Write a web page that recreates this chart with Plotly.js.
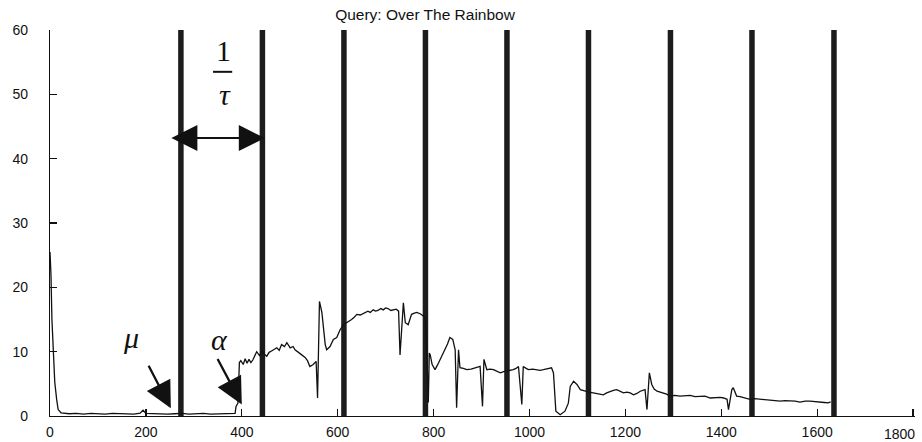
<!DOCTYPE html>
<html>
<head>
<meta charset="utf-8">
<script src="https://cdn.plot.ly/plotly-3.0.1.min.js"></script>
<style>html,body{margin:0;padding:0;background:#fff;}#chart{width:922px;height:442px;}</style>
</head>
<body>
<div id="chart"></div>
<script>
// Query signal (x = frame index, y = distance)
var signalX = [0, 2, 4, 7, 10, 14, 17, 23, 30, 40, 55, 70, 85, 100, 115, 130, 145, 160, 175, 188, 194, 200, 215, 230, 245, 260, 275, 290, 305, 320, 335, 350, 365, 378, 386,
  388, 392, 395, 398, 403, 407, 411, 415, 419, 423, 431, 437, 442, 447, 452, 457, 462, 468, 473, 478, 483, 489, 494, 501, 507, 511, 515, 520, 525, 532, 537, 542, 549, 555,
  558, 562, 567, 574, 577, 584, 591, 598, 605, 612, 617, 622, 629, 635, 640, 647, 654, 663, 668, 674, 679, 684, 690, 695, 700, 705, 711, 716, 722, 727,
  730, 737, 741, 747, 754, 760, 765, 772, 779, 783, 786, 789, 791, 793, 797, 803, 808, 814, 819, 824, 829, 834, 840, 845, 848, 852, 855, 862, 869, 878, 884, 890, 897,
  902, 905, 911, 918, 925, 932, 939, 946, 953, 960, 966, 972, 977, 984, 987, 993, 998, 1007, 1015, 1022, 1029, 1038, 1046, 1050,
  1055, 1064, 1074, 1081, 1085, 1092, 1099, 1106, 1116, 1124, 1133, 1143, 1154, 1161, 1168, 1175, 1182, 1189, 1196, 1203, 1210, 1217, 1224, 1231, 1241,
  1245, 1248, 1250, 1255, 1260, 1266, 1273, 1279, 1286, 1293, 1303, 1314, 1324, 1335, 1345, 1356, 1366, 1377, 1387, 1398, 1405, 1412,
  1415, 1422, 1425, 1432, 1439, 1446, 1453, 1460, 1470, 1481, 1491, 1502, 1512, 1523, 1533, 1544, 1554, 1564, 1575, 1585, 1595, 1606, 1615, 1623, 1628];
var signalY = [25.5, 22, 15, 9.9, 5.2, 2.5, 1.0, 0.5, 0.4, 0.35, 0.4, 0.3, 0.4, 0.35, 0.3, 0.4, 0.35, 0.4, 0.3, 0.45, 0.9, 0.4, 0.35, 0.4, 0.3, 0.35, 0.4, 0.3, 0.35, 0.4, 0.3, 0.35, 0.4, 0.35, 0.4,
  1.5, 2.0, 8.3, 8.6, 8.0, 8.9, 8.2, 8.8, 8.3, 8.7, 10.0, 9.4, 10.1, 9.6, 9.3, 9.9, 10.1, 10.4, 10.6, 10.2, 11.1, 10.8, 11.4, 10.6, 10.8, 10.3, 10.1, 9.8, 9.5, 9.1, 8.6, 7.7, 8.0, 8.5,
  2.8, 17.8, 16.1, 11.1, 10.3, 10.8, 11.9, 12.2, 13.4, 14.2, 14.4, 14.7, 15.0, 15.4, 15.8, 15.7, 16.0, 16.3, 16.1, 16.5, 16.3, 16.4, 16.7, 16.5, 16.8, 16.7, 16.4, 16.5, 16.6, 16.3,
  9.5, 17.6, 14.5, 14.2, 15.8, 16.0, 16.1, 15.9, 15.5, 15.3, 9.5, 2.1, 9.8, 9.5, 8.0, 7.2, 7.9, 8.8, 9.6, 10.3, 11.2, 12.2, 11.9, 10.3, 1.3, 10.3, 7.5, 7.4, 7.2, 7.3, 7.4, 7.5, 7.7,
  1.5, 8.8, 7.2, 7.3, 7.2, 7.0, 6.7, 6.9, 7.0, 7.1, 7.2, 7.4, 7.7, 1.8, 7.7, 7.4, 7.2, 7.3, 7.2, 7.1, 7.2, 7.3, 7.5, 6.7,
  0.75, 0.2, 0.75, 2.0, 4.6, 5.4, 4.9, 4.1, 3.85, 3.7, 3.6, 3.5, 3.3, 3.6, 3.85, 4.0, 4.1, 3.8, 3.6, 3.7, 3.6, 3.3, 3.5, 3.85, 4.1,
  1.0, 5.7, 6.7, 4.9, 4.2, 3.85, 3.7, 3.6, 3.4, 3.1, 3.2, 3.1, 3.2, 3.2, 3.0, 3.0, 3.1, 2.8, 2.9, 2.9, 2.8, 2.6,
  1.0, 4.1, 4.4, 3.1, 3.0, 2.9, 2.7, 2.6, 2.7, 2.6, 2.5, 2.45, 2.4, 2.3, 2.4, 2.4, 2.3, 2.15, 2.3, 2.3, 2.2, 2.2, 2.1, 2.05, 2.2];
// Segment boundaries (vertical bars)
var barPositions = [273, 443, 613, 783, 953, 1123, 1294, 1464, 1635];
var barBottom = 0, barTop = 60;
var xTicks = [0, 200, 400, 600, 800, 1000, 1200, 1400, 1600, 1800];
var yTicks = [0, 10, 20, 30, 40, 50, 60];
var chartTitle = 'Query: Over The Rainbow';

var bx = [], by = [];
barPositions.forEach(function (p) { bx.push(p, p, null); by.push(barBottom, barTop, null); });

var traces = [
  { x: bx, y: by, type: 'scatter', mode: 'lines', line: { color: '#1c1c1c', width: 5.5 }, hoverinfo: 'skip', showlegend: false },
  { x: signalX, y: signalY, type: 'scatter', mode: 'lines', line: { color: '#111', width: 1.3 }, showlegend: false }
];

var axisFont = { family: 'Liberation Sans, Arial, sans-serif', size: 14, color: '#111' };
var mathFont = { family: 'Liberation Serif, Times New Roman, serif', size: 30, color: '#111' };
var lastX = xTicks[xTicks.length - 1];
var xTickText = xTicks.map(function (v, i) { return i === xTicks.length - 1 ? '' : String(v); });

var layout = {
  width: 922, height: 442,
  margin: { l: 50, r: 7, t: 30, b: 26 },
  paper_bgcolor: '#fff', plot_bgcolor: '#fff',
  title: { text: chartTitle, font: { family: 'Liberation Sans, Arial, sans-serif', size: 15.5, color: '#111' }, x: 0.461, xanchor: 'center', y: 0.967, yanchor: 'middle' },
  xaxis: { range: [0, 1804], tickvals: xTicks, ticktext: xTickText, ticks: 'inside', ticklen: 7, tickwidth: 1.2, tickcolor: '#111',
    showline: true, linecolor: '#111', linewidth: 1.2, showgrid: false, zeroline: false, tickfont: axisFont, ticklabelstandoff: 3 },
  yaxis: { range: [0, 60], tickvals: yTicks, ticks: 'inside', ticklen: 7, tickwidth: 1.2, tickcolor: '#111',
    showline: true, linecolor: '#111', linewidth: 1.2, showgrid: false, zeroline: false, tickfont: axisFont, ticklabelstandoff: 18 },
  shapes: [
    { type: 'line', xref: 'x', yref: 'y', x0: 340, x1: 380, y0: 53.5, y1: 53.5, line: { color: '#111', width: 2 } }
  ],
  annotations: [
    { x: lastX, y: 0, xref: 'x', yref: 'y', text: String(lastX), showarrow: false, font: axisFont, xanchor: 'right', yanchor: 'top', xshift: 4, yshift: -8 },
    { x: 361, y: 56.8, xref: 'x', yref: 'y', text: '1', showarrow: false, font: mathFont },
    { x: 365, y: 49.9, xref: 'x', yref: 'y', text: '<i>τ</i>', showarrow: false, font: mathFont },
    { x: 169, y: 12.2, xref: 'x', yref: 'y', text: '<i>μ</i>', showarrow: false, font: mathFont },
    { x: 353, y: 11.9, xref: 'x', yref: 'y', text: '<i>α</i>', showarrow: false, font: mathFont },
    { x: 448, y: 43.2, ax: 250, ay: 43.2, xref: 'x', yref: 'y', axref: 'x', ayref: 'y', text: '', showarrow: true,
      arrowside: 'end+start', arrowhead: 2, startarrowhead: 2, arrowsize: 2.6, startarrowsize: 2.6, arrowwidth: 2, arrowcolor: '#111', standoff: 0, startstandoff: 0 },
    { x: 252, y: 1.2, ax: -23, ay: -44, xref: 'x', yref: 'y', text: '', showarrow: true, arrowhead: 2, arrowsize: 2.3, arrowwidth: 2.3, arrowcolor: '#111' },
    { x: 400, y: 1.8, ax: -25, ay: -47, xref: 'x', yref: 'y', text: '', showarrow: true, arrowhead: 2, arrowsize: 2.3, arrowwidth: 2.3, arrowcolor: '#111' }
  ]
};

Plotly.newPlot('chart', traces, layout, { staticPlot: true, displayModeBar: false });
</script>
</body>
</html>
